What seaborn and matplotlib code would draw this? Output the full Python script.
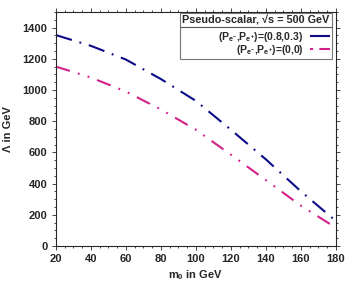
import pandas as pd
import seaborn as sns
import matplotlib.pyplot as plt
from matplotlib.lines import Line2D
from matplotlib.ticker import MultipleLocator

# values
m0 = [20, 40, 60, 80, 100, 120, 140, 160, 180]
lam_pol = [1352, 1283, 1195, 1070, 930, 745, 555, 350, 160]
lam_unpol = [1150, 1080, 990, 875, 745, 585, 422, 258, 117]
series_labels = [r'(P$_{e^{-}}$,P$_{e^{+}}$)=(0.8,0.3)',
                 r'(P$_{e^{-}}$,P$_{e^{+}}$)=(0,0)']
colors = ['#0b0b8a', '#d4218a']
legend_title = 'Pseudo-scalar, √s = 500 GeV'

data = pd.concat([
    pd.DataFrame({'m0': m0, 'lam': lam_pol, 'pol': series_labels[0]}),
    pd.DataFrame({'m0': m0, 'lam': lam_unpol, 'pol': series_labels[1]}),
])

sns.set_style('ticks')
plt.rcParams['font.family'] = ['Liberation Sans', 'DejaVu Sans']
plt.rcParams['font.weight'] = 'bold'
plt.rcParams['mathtext.fontset'] = 'custom'
plt.rcParams['mathtext.rm'] = 'Liberation Sans:bold'
plt.rcParams['mathtext.it'] = 'Liberation Sans:bold'
plt.rcParams['mathtext.bf'] = 'Liberation Sans:bold'
plt.rcParams['mathtext.default'] = 'rm'

dash_pol = (8, 3.8, 0.9, 3.8)
dash_unpol = (7, 4, 0.9, 4, 0.9, 4)

fig = plt.figure(figsize=(3.54, 3.0), dpi=100)
ax = fig.add_axes([0.158, 0.18, 0.791, 0.78])

sns.lineplot(data=data, x='m0', y='lam', hue='pol', style='pol',
             palette=colors, dashes=[dash_pol, dash_unpol],
             linewidth=1.5, ax=ax, legend=False)

ax.set_xlim(20, 180)
ax.set_ylim(0, 1500)
ax.xaxis.set_major_locator(MultipleLocator(20))
ax.xaxis.set_minor_locator(MultipleLocator(5))
ax.yaxis.set_major_locator(MultipleLocator(200))
ax.yaxis.set_minor_locator(MultipleLocator(50))
ax.tick_params(which='both', direction='out', top=True, right=True,
               width=0.6, labelsize=8, pad=3)
ax.tick_params(which='major', length=3)
ax.tick_params(which='minor', length=1.5)
for s in ax.spines.values():
    s.set_linewidth(0.8)

ax.set_xlabel(r'm$_0$ in GeV', fontsize=8, fontweight='bold', labelpad=3)
ax.set_ylabel('Λ in GeV', fontsize=8, fontweight='bold', labelpad=7)

handles = [Line2D([], [], color=c, linewidth=1.5, dashes=d)
           for c, d in zip(colors, [(10, 2), (1.5, 3, 7, 3)])]
leg = ax.legend(handles, series_labels, title=legend_title, loc='upper right',
                bbox_to_anchor=(1 - 4 / 280, 0.995), borderaxespad=0,
                markerfirst=False, fancybox=False, fontsize=7.5,
                title_fontproperties={'size': 7.8, 'weight': 'bold'},
                handlelength=1.9, handletextpad=0.6, labelspacing=-0.08,
                borderpad=0.22)
leg.get_frame().set_edgecolor('#555555')
leg.get_frame().set_linewidth(0.8)
leg._legend_box.align = 'right'
leg._legend_box.sep = 3

# separator under the legend title
fig.canvas.draw()
r = fig.canvas.get_renderer()
fb = leg.get_frame().get_window_extent(r)
tb = leg.get_title().get_window_extent(r)
ysep = tb.y0 - 1
inv = fig.transFigure.inverted()
(x0, y0), (x1, _) = inv.transform([(fb.x0, ysep), (fb.x1, ysep)])
fig.add_artist(Line2D([x0, x1], [y0, y0], color='#555555', linewidth=0.8,
                      transform=fig.transFigure))

plt.savefig('out.png', dpi=100)
